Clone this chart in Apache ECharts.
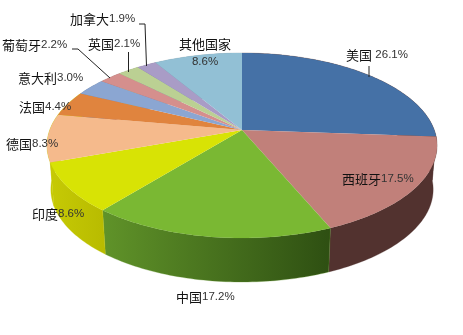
<!DOCTYPE html>
<html><head><meta charset="utf-8">
<style>html,body{margin:0;padding:0;background:#fff}#c{width:463px;height:335px}</style>
<script src="https://cdn.jsdelivr.net/npm/echarts@6/dist/echarts.min.js"></script>
</head><body><div id="c"></div>
<script>
const categories = ['美国','西班牙','中国','印度','德国','法国','意大利','葡萄牙','英国','加拿大','其他国家'];
const shares = [26.1,17.5,17.2,8.6,8.3,4.4,3.0,2.2,2.1,1.9,8.6];
const topColors = ['#4571a6','#c1807a','#7ab833','#d8e305','#f5ba8c','#e0843e','#8ba6d2','#d58f8d','#bbd093','#a99cc6','#92c0d5'];
const wallStart = ['#52322f','#52322f','#609329','#c6ca05','#c6ca05','#c6ca05','#6d84a8','#aa7270','#96a675','#87799e','#749aaa'];
const wallEnd   = ['#52322f','#52322f','#2e4f12','#b8bb00','#c6ca05','#c6ca05','#6d84a8','#aa7270','#96a675','#87799e','#749aaa'];
const labelAnchors = [[346,55],[342,179],[176,297],[32,214],[6,144],[19,107],[18,78],[2,45],[88,44],[70,19],[205,35]];
const leaders = [
  [[369,66],[369,77]],
  [[139,24],[145,24],[146.5,66]],
  [[72,49],[78,49],[110,78]],
  [[128.5,52],[128.5,72]]
];
const CX=242, CY=130, A=89.9, B=-0.1676, C=192.3, H=44, SHRINK=0.98;
const total = shares.reduce((a,b)=>a+b,0);
let acc=0; const ranges = shares.map(v=>{const r=[acc/total*Math.PI*2,(acc+v)/total*Math.PI*2];acc+=v;return r;});
function proj(t){const u=Math.sin(t),v=-Math.cos(t),d=1+B*v;return [CX+C*u/d,CY+A*v/d];}
function low(p){return [CX+(p[0]-CX)*SHRINK,p[1]+H];}
function arc(a,b){const n=Math.max(2,Math.ceil((b-a)/0.02));const o=[];for(let i=0;i<=n;i++)o.push(proj(a+(b-a)*i/n));return o;}
const dataset = shares.map((v,i)=>({value:v,name:categories[i]}));
function wallItem(p,api){
  const i=p.dataIndex, r=ranges[i];
  const top=arc(r[0],r[1]); const bot=top.map(low).reverse();
  const leftToRight=top[0][0]>top[top.length-1][0];
  return {type:'polygon',shape:{points:top.concat(bot)},style:{
    fill:new echarts.graphic.LinearGradient(leftToRight?1:0,0,leftToRight?0:1,0,[{offset:0,color:wallEnd[i]},{offset:1,color:wallStart[i]}]),
    stroke:wallStart[i],lineWidth:0.3}};
}
function topItem(p,api){
  const i=p.dataIndex,r=ranges[i];
  return {type:'polygon',shape:{points:[[CX,CY]].concat(arc(r[0],r[1]))},style:{fill:topColors[i]}};
}
function labelItem(p,api){
  const i=p.dataIndex,a=labelAnchors[i],name=categories[i],val=shares[i].toFixed(1)+'%';
  const two=i===10;
  const sep=i===0?' ':(two?'\n':'');
  return {type:'text',x:a[0],y:a[1],style:{
    text:'{n|'+name+'}'+sep+'{v|'+val+'}',
    align:two?'center':'left',verticalAlign:two?'top':'middle',
    rich:{n:{fontFamily:'"Noto Sans CJK SC"',fontSize:13,fill:'#111',lineHeight:18},
          v:{fontFamily:'"Liberation Sans"',fontSize:11.5,fill:'#333',lineHeight:18}}
  }};
}
const chart=echarts.init(document.getElementById('c'),null,{renderer:'canvas'});
chart.setOption({animation:false,backgroundColor:'#fff',
  series:[
    {type:'custom',coordinateSystem:'none',data:dataset,renderItem:wallItem,z:1,silent:true},
    {type:'custom',coordinateSystem:'none',data:dataset,renderItem:topItem,z:2,silent:true},
    {type:'custom',coordinateSystem:'none',data:leaders.map((l,i)=>i),z:3,silent:true,
      renderItem:(p)=>({type:'polyline',shape:{points:leaders[p.dataIndex]},style:{stroke:'#222',lineWidth:1,fill:null}})},
    {type:'custom',coordinateSystem:'none',data:dataset,renderItem:labelItem,z:4,silent:true}
  ]});
</script></body></html>
